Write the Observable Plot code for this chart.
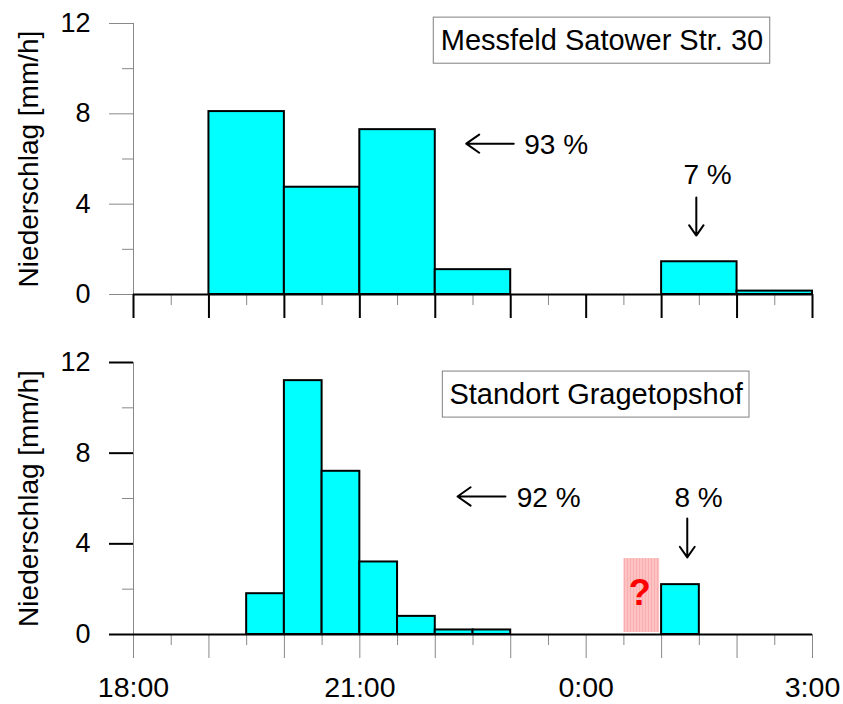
<!DOCTYPE html>
<html><head><meta charset="utf-8">
<script src="https://cdn.jsdelivr.net/npm/d3@7"></script>
<script src="https://cdn.jsdelivr.net/npm/@observablehq/plot@0.6"></script>
<style>
body{margin:0;background:#fff;}
#chart{position:relative;width:843px;height:704px;background:#fff;}
#chart svg{display:block;}
</style></head><body><div id="chart"></div>
<script>
// ---- data ----
const stations = ["Messfeld Satower Str. 30", "Standort Gragetopshof"];
const topStart = ["19:00", "20:00", "21:00", "22:00", "1:00", "2:00"];
const topValues = [8.1, 4.75, 7.3, 1.1, 1.45, 0.15];
const bottomStart = ["19:30", "20:00", "20:30", "21:00", "21:30", "22:00", "22:30", "1:00"];
const bottomValues = [1.8, 11.2, 7.2, 3.2, 0.8, 0.2, 0.2, 2.2];
const missingStart = ["0:30"];
const missingValues = [3.35];
const topShares = ["93 %", "7 %"];
const bottomShares = ["92 %", "8 %"];
const xTickHours = [18, 21, 24, 27];
const xTickLabels = ["18:00", "21:00", "0:00", "3:00"];
const yTicks = [0, 4, 8, 12];
const yMinorTicks = [2, 6, 10];
const yLabel = "Niederschlag [mm/h]";

function toHour(s) {
  const [h, m] = s.split(":").map(Number);
  let v = h + m / 60;
  if (v < 12) v += 24;
  return v;
}
function makeBars(starts, values, step) {
  return starts.map((s, i) => ({x1: toHour(s), x2: toHour(s) + step, v: values[i]}));
}
const topBars = makeBars(topStart, topValues, 1);
const bottomBars = makeBars(bottomStart, bottomValues, 0.5);
const missing = makeBars(missingStart, missingValues, 0.5);

const FONT = "'Liberation Sans', Arial, Helvetica, sans-serif";
const hourTicks = d3.range(18, 27.001, 1);
const halfTicks = d3.range(18.5, 27, 1);

function panel(o) {
  const marks = [
    Plot.ruleX([18], {stroke: "#888", strokeWidth: 1}),
    Plot.axisY({ticks: yMinorTicks, tickSize: 11, tickFormat: () => "", stroke: "#888", label: null}),
    Plot.axisY({ticks: yTicks, tickSize: 24, tickPadding: 19, stroke: o.yMajorColor, strokeWidth: o.yMajorWidth, fontSize: 27, fill: "black", label: null}),
    Plot.axisX({ticks: halfTicks, tickSize: 11, tickFormat: () => "", stroke: "#888", label: null}),
    Plot.axisX({ticks: hourTicks, tickSize: 24, tickFormat: () => "", stroke: o.xMajorColor, strokeWidth: o.xMajorWidth, label: null}),
    Plot.ruleY([0], {stroke: "black", strokeWidth: 2}),
    ...(o.pre || []),
    Plot.rectY(o.bars, {x1: "x1", x2: "x2", y: "v", fill: "#00FFFF", stroke: "black", strokeWidth: 2}),
    Plot.text([yLabel], {text: d => d, frameAnchor: "left", textAnchor: "middle", dx: -104, rotate: -90, fontSize: 28, fill: "black"}),
    Plot.rect([o.station], {x1: o.box[0], x2: o.box[1], y1: o.box[2], y2: o.box[3], fill: "white", stroke: "#808080", strokeWidth: 1}),
    Plot.text([o.station], {text: d => d, x: (o.box[0] + o.box[1]) / 2, y: (o.box[2] + o.box[3]) / 2, fontSize: 29, fill: "black"}),
    Plot.arrow([0], {x1: o.leftArrow[0], x2: o.leftArrow[1], y1: o.leftArrow[2], y2: o.leftArrow[2], stroke: "black", strokeWidth: 2, headLength: 17, headAngle: 70}),
    Plot.text([o.shares[0]], {text: d => d, x: o.leftText[0], y: o.leftText[1], textAnchor: "start", fontSize: 28, fill: "black"}),
    Plot.arrow([0], {x1: o.downArrow[0], x2: o.downArrow[0], y1: o.downArrow[1], y2: o.downArrow[2], stroke: "black", strokeWidth: 2, headLength: 17, headAngle: 70}),
    Plot.text([o.shares[1]], {text: d => d, x: o.downText[0], y: o.downText[1], textAnchor: "start", fontSize: 28, fill: "black"}),
    ...(o.post || [])
  ];
  return Plot.plot({
    width: 843, height: o.height,
    marginTop: o.marginTop, marginBottom: o.marginBottom, marginLeft: 133, marginRight: 31,
    x: {domain: [18, 27], axis: null},
    y: {domain: [0, 12], axis: null},
    style: {fontFamily: FONT, fontSize: "28px", color: "black", background: "white", overflow: "visible"},
    marks
  });
}

const topPlot = panel({
  height: 330, marginTop: 23, marginBottom: 36,
  bars: topBars, station: stations[0], shares: topShares,
  yMajorColor: "#888", yMajorWidth: 1, xMajorColor: "black", xMajorWidth: 2,
  box: [21.98, 26.44, 10.22, 12.26],
  leftArrow: [23.04, 22.41, 6.68], leftText: [23.18, 6.6],
  downArrow: [25.46, 4.29, 2.61], downText: [25.29, 5.3]
});

const bottomPlot = panel({
  height: 374, marginTop: 32, marginBottom: 70,
  bars: bottomBars, station: stations[1], shares: bottomShares,
  yMajorColor: "black", yMajorWidth: 2, xMajorColor: "#888", xMajorWidth: 1,
  box: [22.10, 26.165, 9.57, 11.60],
  leftArrow: [22.93, 22.295, 6.09], leftText: [23.08, 6.0],
  downArrow: [25.34, 5.12, 3.40], downText: [25.17, 6.04],
  pre: [
    Plot.rectY(missing, {x1: "x1", x2: "x2", y: "v", fill: "url(#hatch)", insetRight: 2, insetBottom: 2})
  ],
  post: [
    Plot.text(missing, {x: d => (d.x1 + d.x2) / 2 - 0.04, y: d => d.v / 2 + 0.13, text: () => "?", fill: "#ff0000", fontWeight: "bold", fontSize: 36}),
    Plot.axisX({ticks: xTickHours, tickSize: 0, tickPadding: 42, fontSize: 28.5, fill: "black", label: null,
      tickFormat: d => xTickLabels[xTickHours.indexOf(d)]})
  ]
});

const defs = d3.select(bottomPlot).insert("defs", ":first-child");
const pat = defs.append("pattern").attr("id", "hatch").attr("patternUnits", "userSpaceOnUse")
  .attr("width", 3).attr("height", 10);
pat.append("rect").attr("width", 3).attr("height", 10).attr("fill", "#ffc2c2");
pat.append("rect").attr("width", 1).attr("height", 10).attr("fill", "#f8afaf");

const chart = document.getElementById("chart");
chart.appendChild(topPlot);
chart.appendChild(bottomPlot);
</script>
</body></html>
